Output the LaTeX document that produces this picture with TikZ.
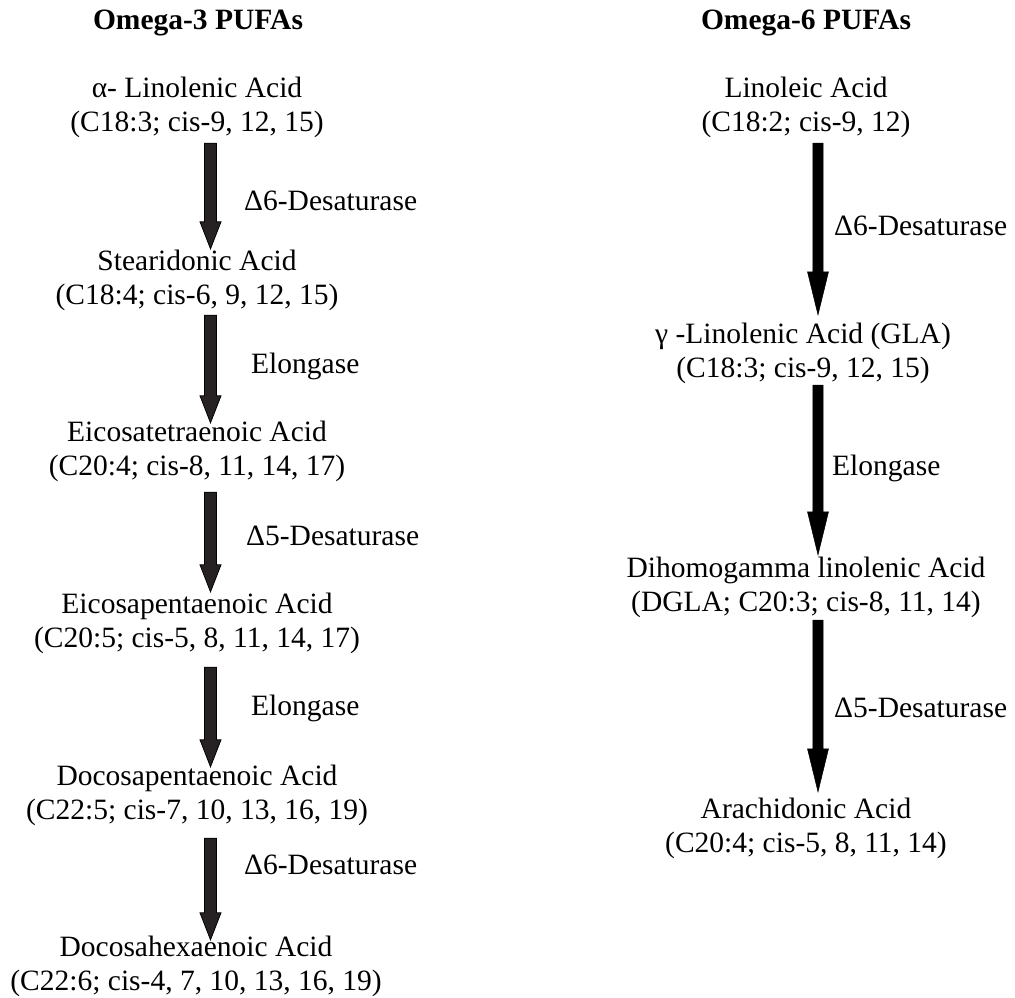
\documentclass[tikz,border=0pt]{standalone}
\usepackage{fontspec}
\setmainfont{Liberation Serif}
\usetikzlibrary{calc}
\newcommand{\twoline}[2]{\begin{tabular}[t]{@{}c@{}}#1\\#2\end{tabular}}
\tikzset{
  txt/.style={inner sep=0pt, anchor=base, font=\fontsize{29.5pt}{34pt}\selectfont},
  hdr/.style={inner sep=0pt, anchor=base, font=\fontsize{29.5pt}{34pt}\selectfont\bfseries},
  lbl/.style={inner sep=0pt, anchor=base west, font=\fontsize{29.5pt}{34pt}\selectfont},
  fatarrow/.style n args={3}{to path={let \p1=(\tikztostart), \p2=(\tikztotarget) in
    (\x1-#3,\y1) -- (\x1+#3,\y1) -- (\x1+#3,\y2+#1) -- (\x1+#2,\y2+#1) -- (\x1,\y2)
    -- (\x1-#2,\y2+#1) -- (\x1-#3,\y2+#1) -- cycle}},
  larrow/.style={fatarrow={27pt}{10.5pt}{6pt}, fill={rgb,255:red,38;green,34;blue,35}, draw=black, line width=0.8pt, line join=miter},
  rarrow/.style={fatarrow={43pt}{10.5pt}{5.2pt}, fill=black, draw=black, line width=0.5pt, line join=miter},
}
\begin{document}
\begin{tikzpicture}[x=1pt,y=-1pt]
\useasboundingbox (0,0) rectangle (1015,998);
% Omega-3 column
\node[hdr] (hd3) at (198,30) {Omega-3 PUFAs};
\node[txt] (ala) at (197,98) {\twoline{α- Linolenic Acid}{(C18:3; cis-9, 12, 15)}};
\node[txt] (sda) at (197,270) {\twoline{Stearidonic Acid}{(C18:4; cis-6, 9, 12, 15)}};
\node[txt] (eta) at (197,441) {\twoline{Eicosatetraenoic Acid}{(C20:4; cis-8, 11, 14, 17)}};
\node[txt] (epa) at (197,613) {\twoline{Eicosapentaenoic Acid}{(C20:5; cis-5, 8, 11, 14, 17)}};
\node[txt] (dpa) at (197,785) {\twoline{Docosapentaenoic Acid}{(C22:5; cis-7, 10, 13, 16, 19)}};
\node[txt] (dha) at (196,956) {\twoline{Docosahexaenoic Acid}{(C22:6; cis-4, 7, 10, 13, 16, 19)}};
\draw[larrow] ([xshift=13.5pt,yshift=-0.8pt]ala.south) to ([yshift=-2.8pt]sda.north);
\draw[larrow] ([xshift=13.5pt,yshift=-0.8pt]sda.south) to ([yshift=-5.8pt]eta.north);
\draw[larrow] ([xshift=13.5pt,yshift=-6.8pt]eta.south) to ([yshift=-2.8pt]epa.north);
\draw[larrow] ([xshift=13.5pt,yshift=-9.8pt]epa.south) to ([yshift=-5.8pt]dpa.north);
\draw[larrow] ([xshift=13.5pt,yshift=-8.8pt]dpa.south) to ([yshift=-7.8pt]dha.north);
\node[lbl] (l1) at (244,210) {Δ6-Desaturase};
\node[lbl] (l2) at (251,373) {Elongase};
\node[lbl] (l3) at (246,545) {Δ5-Desaturase};
\node[lbl] (l4) at (251,715) {Elongase};
\node[lbl] (l5) at (244,874) {Δ6-Desaturase};
% Omega-6 column
\node[hdr] (hd6) at (806,30) {Omega-6 PUFAs};
\node[txt] (la) at (806,98) {\twoline{Linoleic Acid}{(C18:2; cis-9, 12)}};
\node[txt] (gla) at (803,343) {\twoline{γ -Linolenic Acid (GLA)}{(C18:3; cis-9, 12, 15)}};
\node[txt] (dgla) at (806,577) {\twoline{Dihomogamma linolenic Acid}{(DGLA; C20:3; cis-8, 11, 14)}};
\node[txt] (aa) at (806,818) {\twoline{Arachidonic Acid}{(C20:4; cis-5, 8, 11, 14)}};
\draw[rarrow] ([xshift=12pt,yshift=-0.8pt]la.south) to ([yshift=4.2pt]gla.north);
\draw[rarrow] ([xshift=15pt,yshift=2.2pt]gla.south) to ([yshift=-1.8pt]dgla.north);
\draw[rarrow] ([xshift=12pt,yshift=1.2pt]dgla.south) to ([yshift=2.2pt]aa.north);
\node[lbl] (r1) at (834,235) {Δ6-Desaturase};
\node[lbl] (r2) at (832,475) {Elongase};
\node[lbl] (r3) at (834,717) {Δ5-Desaturase};
\end{tikzpicture}
\end{document}
